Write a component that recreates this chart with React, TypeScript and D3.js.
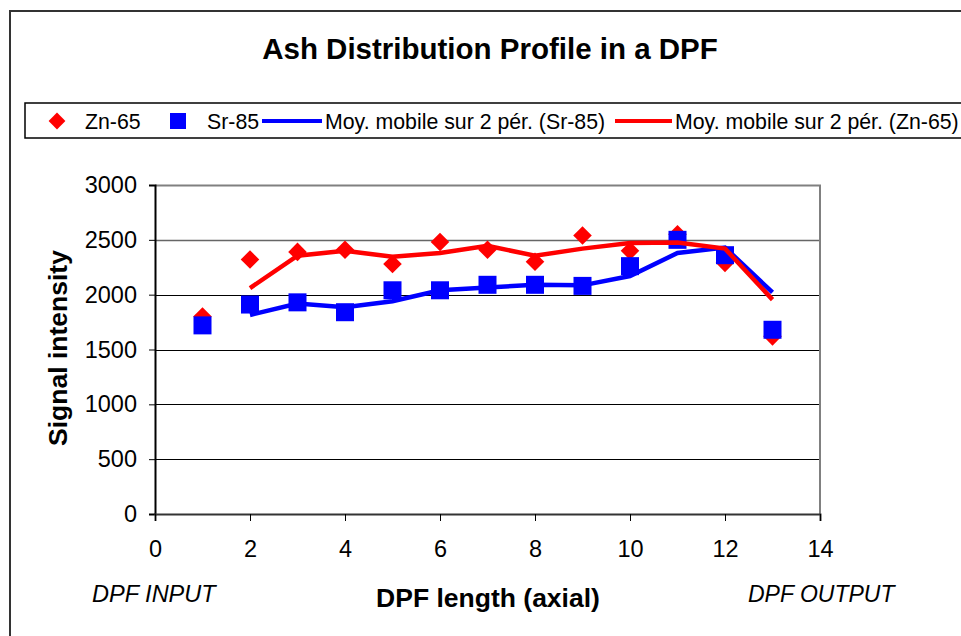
import React, { useRef, useEffect } from "react";
import * as d3 from "d3";

const positions = [1, 2, 3, 4, 5, 6, 7, 8, 9, 10, 11, 12, 13];
const zn65 = [1800, 2320, 2390, 2410, 2280, 2480, 2410, 2300, 2540, 2400, 2550, 2290, 1620];
const sr85 = [1720, 1910, 1930, 1840, 2040, 2040, 2090, 2090, 2080, 2260, 2500, 2360, 1680];
const yTicks = [0, 500, 1000, 1500, 2000, 2500, 3000];
const xTicks = [0, 2, 4, 6, 8, 10, 12, 14];

const RED = "#ff0000";
const BLUE = "#0000ff";
const FONT = "'Liberation Sans', Arial, sans-serif";

// Excel style "moving average over 2 periods" trendline
const movingAvg = (vals: number[]) =>
  vals.slice(1).map((v, i) => ({ x: positions[i + 1], y: (v + vals[i]) / 2 }));

const App = () => {
  const svgRef = useRef<SVGSVGElement>(null);

  useEffect(() => {
    const svg = d3.select(svgRef.current);
    svg.selectAll("*").remove();

    const width = 961;
    const height = 636;
    const margin = { top: 185, left: 155, bottom: 122, right: 141 };
    const iwidth = width - margin.left - margin.right;
    const iheight = height - margin.top - margin.bottom;

    svg.append("rect").attr("width", width).attr("height", height).attr("fill", "#fff");

    // outer chart frame (runs off the right and bottom edges)
    svg
      .append("rect")
      .attr("x", 10)
      .attr("y", 11)
      .attr("width", 1000)
      .attr("height", 700)
      .attr("fill", "none")
      .attr("stroke", "#333")
      .attr("stroke-width", 2);

    svg
      .append("text")
      .attr("x", 490)
      .attr("y", 59)
      .attr("text-anchor", "middle")
      .style("font-family", FONT)
      .style("font-size", "29.5px")
      .style("font-weight", "bold")
      .text("Ash Distribution Profile in a DPF");

    // legend
    const leg = svg.append("g");
    leg
      .append("rect")
      .attr("x", 25)
      .attr("y", 103)
      .attr("width", 1000)
      .attr("height", 35)
      .attr("fill", "#fff")
      .attr("stroke", "#000")
      .attr("stroke-width", 1.5);
    const ly = 121;
    leg
      .append("path")
      .attr("d", d3.symbol(d3.symbolDiamond2, 180)())
      .attr("transform", `translate(57,${ly})`)
      .attr("fill", RED);
    leg
      .append("rect")
      .attr("x", 170)
      .attr("y", ly - 8)
      .attr("width", 16)
      .attr("height", 16)
      .attr("fill", BLUE);
    leg.append("line").attr("x1", 262).attr("x2", 322).attr("y1", ly).attr("y2", ly).attr("stroke", BLUE).attr("stroke-width", 4);
    leg.append("line").attr("x1", 615).attr("x2", 672).attr("y1", ly).attr("y2", ly).attr("stroke", RED).attr("stroke-width", 4);
    const legTexts = [
      { x: 85, t: "Zn-65" },
      { x: 207, t: "Sr-85" },
      { x: 325, t: "Moy. mobile sur 2 pér. (Sr-85)" },
      { x: 675, t: "Moy. mobile sur 2 pér. (Zn-65)" },
    ];
    leg
      .selectAll("text.leg")
      .data(legTexts)
      .enter()
      .append("text")
      .attr("class", "leg")
      .attr("x", (d) => d.x)
      .attr("y", ly + 8)
      .style("font-family", FONT)
      .style("font-size", "21.3px")
      .text((d) => d.t);

    const g = svg.append("g").attr("transform", `translate(${margin.left},${margin.top})`);

    const x = d3.scaleLinear().domain([0, 14]).range([0, iwidth]);
    const y = d3.scaleLinear().domain([0, 3000]).range([iheight, 0]);

    // gridlines
    g.selectAll("line.grid")
      .data(yTicks.filter((t) => t > 0 && t < 3000))
      .enter()
      .append("line")
      .attr("class", "grid")
      .attr("x1", 0)
      .attr("x2", iwidth)
      .attr("y1", (d) => Math.round(y(d)) + 0.5)
      .attr("y2", (d) => Math.round(y(d)) + 0.5)
      .attr("stroke", (d) => (d === 2500 ? "#666" : "#000"))
      .attr("stroke-width", (d) => (d === 2500 ? 1.6 : 1));

    // plot area border (top / right)
    g.append("path")
      .attr("d", `M0,0.5H${iwidth}V${iheight}`)
      .attr("fill", "none")
      .attr("stroke", "#808080")
      .attr("stroke-width", 2);

    const yAxis = g
      .append("g")
      .call(d3.axisLeft(y).tickValues(yTicks).tickSize(6).tickPadding(12).tickFormat(d3.format("d")));
    yAxis.select(".domain").attr("stroke", "#000").attr("stroke-width", 2);
    yAxis.selectAll("text").style("font-family", FONT).style("font-size", "23.5px").attr("fill", "#000");

    const xAxis = g
      .append("g")
      .attr("transform", `translate(0,${iheight})`)
      .call(d3.axisBottom(x).tickValues(xTicks).tickSize(7).tickPadding(19).tickFormat(d3.format("d")));
    xAxis.select(".domain").attr("stroke", "#333").attr("stroke-width", 2);
    xAxis.selectAll("text").style("font-family", FONT).style("font-size", "23.5px").attr("fill", "#000");

    // markers
    g.selectAll("path.zn")
      .data(zn65)
      .enter()
      .append("path")
      .attr("class", "zn")
      .attr("d", d3.symbol(d3.symbolDiamond2, 220)())
      .attr("transform", (d, i) => `translate(${x(positions[i])},${y(d)})`)
      .attr("fill", RED);

    g.selectAll("rect.sr")
      .data(sr85)
      .enter()
      .append("rect")
      .attr("class", "sr")
      .attr("x", (d, i) => x(positions[i]) - 9)
      .attr("y", (d) => y(d) - 9)
      .attr("width", 18)
      .attr("height", 18)
      .attr("fill", BLUE);

    const line = d3
      .line<{ x: number; y: number }>()
      .x((d) => x(d.x))
      .y((d) => y(d.y));

    g.append("path").datum(movingAvg(sr85)).attr("d", line).attr("fill", "none").attr("stroke", BLUE).attr("stroke-width", 4.5);
    g.append("path").datum(movingAvg(zn65)).attr("d", line).attr("fill", "none").attr("stroke", RED).attr("stroke-width", 4.5);

    // axis titles
    svg
      .append("text")
      .attr("transform", `translate(67,348) rotate(-90)`)
      .attr("text-anchor", "middle")
      .style("font-family", FONT)
      .style("font-size", "26.5px")
      .style("font-weight", "bold")
      .text("Signal intensity");

    svg
      .append("text")
      .attr("x", 488)
      .attr("y", 607)
      .attr("text-anchor", "middle")
      .style("font-family", FONT)
      .style("font-size", "26.5px")
      .style("font-weight", "bold")
      .text("DPF length (axial)");

    svg
      .append("text")
      .attr("x", 92)
      .attr("y", 602)
      .style("font-family", FONT)
      .style("font-size", "23.5px")
      .style("font-style", "italic")
      .text("DPF INPUT");

    svg
      .append("text")
      .attr("x", 748)
      .attr("y", 602)
      .style("font-family", FONT)
      .style("font-size", "23px")
      .style("font-style", "italic")
      .text("DPF OUTPUT");
  }, []);

  return (
    <svg
      ref={svgRef}
      width={961}
      height={636}
      style={{ position: "absolute", left: 0, top: 0, display: "block" }}
    />
  );
};

export default App;
